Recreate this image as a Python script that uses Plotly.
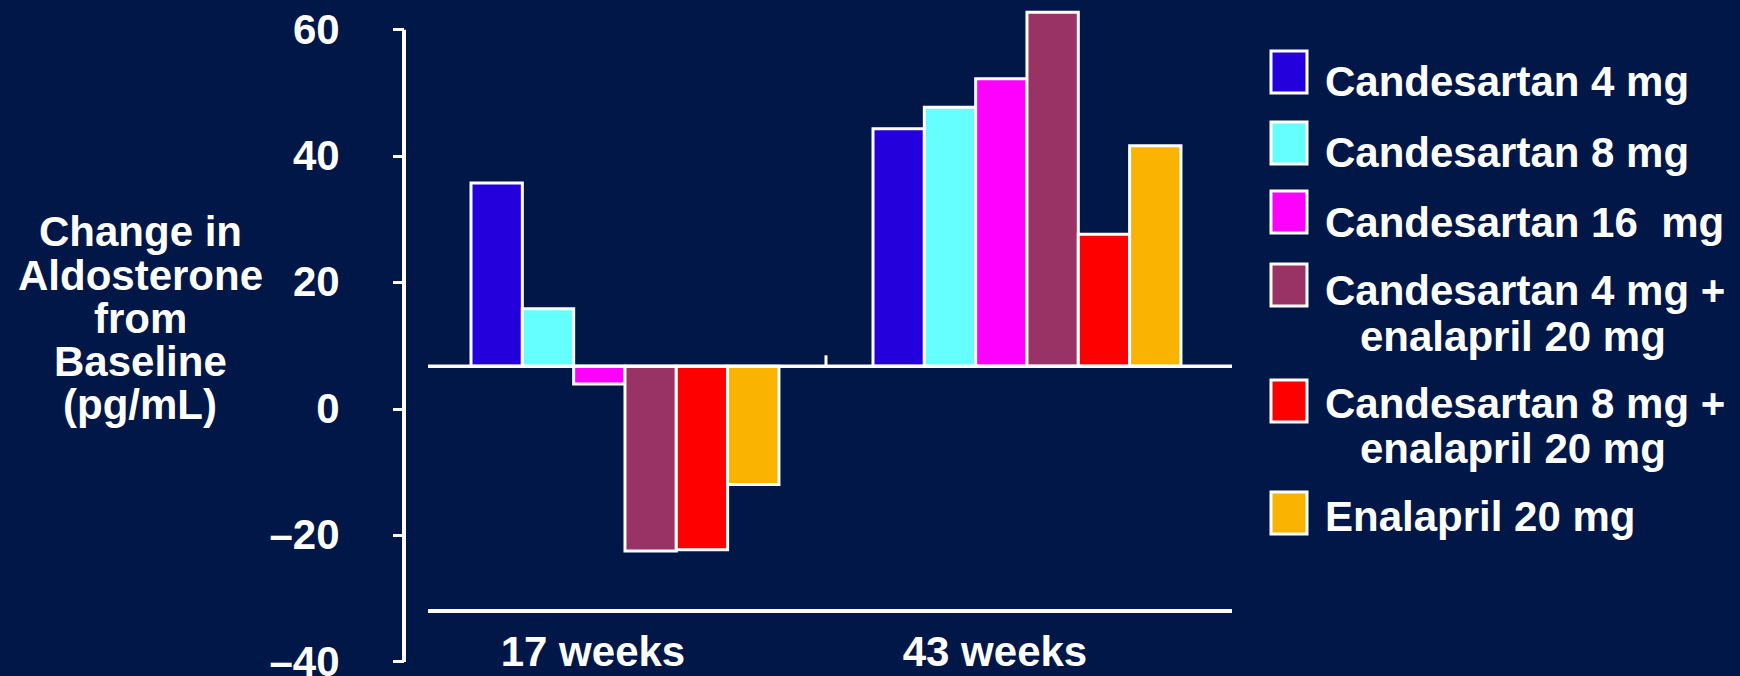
import plotly.graph_objects as go

# ---- data -------------------------------------------------------------
PERIODS = ["17 weeks", "43 weeks"]
TREATMENTS = [
    "Candesartan 4 mg",
    "Candesartan 8 mg",
    "Candesartan 16\u00a0\u00a0mg",
    "Candesartan 4 mg +\nenalapril 20 mg",
    "Candesartan 8 mg +\nenalapril 20 mg",
    "Enalapril 20 mg",
]
# change in aldosterone from baseline (pg/mL), one value per treatment
CHANGE_17_WEEKS = [29.0, 9.1, -2.8, -29.2, -29.0, -18.7]
CHANGE_43_WEEKS = [37.6, 41.0, 45.5, 56.0, 20.9, 34.9]

Y_TICKS = [-40, -20, 0, 20, 40, 60]
Y_TICK_TEXT = ["\u201340", "\u201320", "0", "20", "40", "60"]
AXIS_TITLE_LINES = ["Change in", "Aldosterone", "from", "Baseline", "(pg/mL)"]

# ---- style ------------------------------------------------------------
COLORS = ["#2300DC", "#66FFFF", "#FF00FF", "#993366", "#FF0000", "#F9B300"]
BG = "#001747"
FONT = "Liberation Sans"
FS = 42
W, H = 1740, 676

# the bars grow from a zero line drawn slightly above the printed 0 tick
BAR_BASE = 6.77
Y_RANGE = [-42.22, 64.72]
PX_PER_UNIT = H / (Y_RANGE[1] - Y_RANGE[0])


def px(xp):
    return xp / W


def py(yp):
    return 1 - yp / H


fig = go.Figure()

for name, color, v17, v43 in zip(TREATMENTS, COLORS, CHANGE_17_WEEKS, CHANGE_43_WEEKS):
    fig.add_trace(go.Bar(
        x=PERIODS,
        y=[v17, v43],
        base=BAR_BASE,
        name=name.replace("\n", " "),
        marker=dict(color=color, line=dict(color="white", width=3)),
        showlegend=False,
    ))

shapes = [
    # vertical value axis spanning the printed ticks
    dict(type="line", xref="paper", yref="y", x0=px(404), x1=px(404),
         y0=Y_TICKS[0], y1=Y_TICKS[-1], line=dict(color="white", width=4)),
    # zero line the bars stand on
    dict(type="line", xref="x", yref="y", x0=-0.49, x1=1.51,
         y0=BAR_BASE, y1=BAR_BASE, line=dict(color="white", width=3.5)),
    # small divider tick between the two periods
    dict(type="line", xref="x", yref="y", x0=0.5, x1=0.5,
         y0=BAR_BASE, y1=BAR_BASE + 11 / PX_PER_UNIT, line=dict(color="white", width=3)),
]

annotations = []

# horizontal, multi-line axis title
for k, line in enumerate(AXIS_TITLE_LINES):
    annotations.append(dict(
        text=line, xref="paper", yref="paper", x=px(140), y=py(232 + 43 * k),
        xanchor="center", yanchor="middle", showarrow=False,
        font=dict(family=FONT, size=FS, color="white", weight="bold"),
    ))

# legend: swatch + label rows
LEGEND_TEXT_Y = [82, 152, 222, 291, 403, 516]
LEGEND_SWATCH_Y = [72, 143, 212, 285, 401, 513]
for name, color, ty, sy in zip(TREATMENTS, COLORS, LEGEND_TEXT_Y, LEGEND_SWATCH_Y):
    shapes.append(dict(
        type="rect", xref="paper", yref="paper",
        x0=px(1271), x1=px(1307), y0=py(sy + 21), y1=py(sy - 21),
        fillcolor=color, line=dict(color="white", width=3),
    ))
    lines = name.split("\n")
    for j, line in enumerate(lines):
        annotations.append(dict(
            text=line, xref="paper", yref="paper",
            x=px(1323 if j == 0 else 1358), y=py(ty + 45 * j),
            xanchor="left", yanchor="middle", showarrow=False,
            font=dict(family=FONT, size=FS, color="white", weight="bold"),
        ))

fig.update_layout(
    width=W, height=H,
    margin=dict(l=0, r=0, t=0, b=0, autoexpand=False),
    paper_bgcolor=BG, plot_bgcolor=BG,
    barmode="group", bargap=0.234, bargroupgap=0,
    font=dict(family=FONT, size=FS, color="white"),
    shapes=shapes, annotations=annotations,
    xaxis=dict(
        domain=[px(428), px(1232)], range=[-0.49, 1.51],
        anchor="free", position=py(611), automargin=False,
        showline=True, linecolor="white", linewidth=4,
        ticks="", showgrid=False, zeroline=False,
        tickfont=dict(family=FONT, size=FS, color="white", weight="bold"),
        ticklabelshift=-32, ticklabelstandoff=3, ticklabeloverflow="allow",
    ),
    yaxis=dict(
        domain=[0, 1], range=Y_RANGE,
        anchor="free", position=px(404), automargin=False,
        showline=False, showgrid=False, zeroline=False,
        ticks="outside", ticklen=11, tickwidth=3, tickcolor="white",
        tickvals=Y_TICKS, ticktext=Y_TICK_TEXT,
        tickfont=dict(family=FONT, size=FS, color="white", weight="bold"),
        ticklabelstandoff=45, ticklabelshift=-1, ticklabeloverflow="allow",
    ),
)

fig.write_html("out.html")
